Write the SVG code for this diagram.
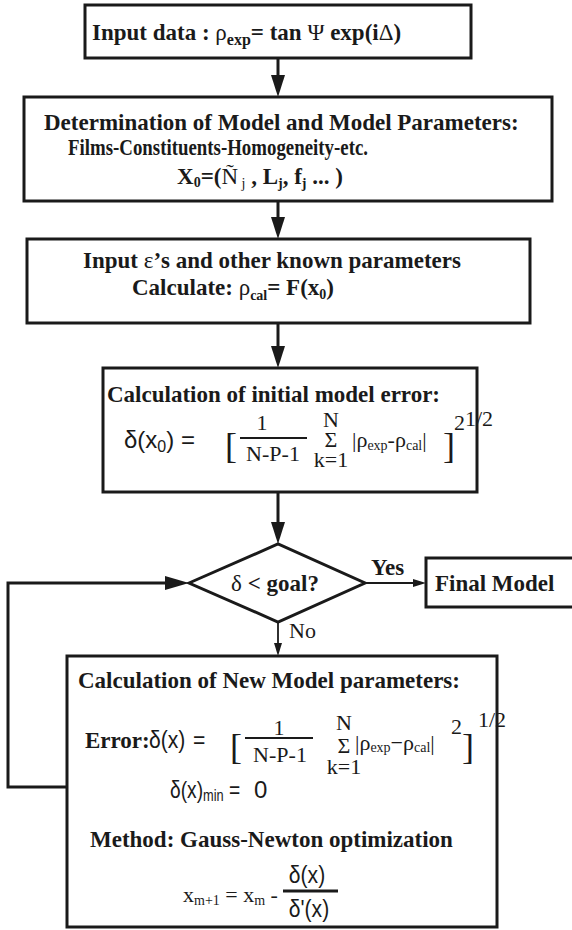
<svg xmlns="http://www.w3.org/2000/svg" width="572" height="930" viewBox="0 0 572 930">
<style>
.box{fill:#fff;stroke:#1a1a1a;stroke-width:3}
.ln{stroke:#1a1a1a;stroke-width:3;fill:none}
.thin{stroke:#1a1a1a;stroke-width:1.8;fill:none}
.ah{fill:#1a1a1a}
.b{font-family:"Liberation Serif",serif;font-weight:bold;font-size:23px;fill:#1a1a1a}
.r{font-family:"Liberation Serif",serif;font-size:22px;fill:#1a1a1a}
.s{font-family:"Liberation Sans",sans-serif;font-size:24px;fill:#1a1a1a}
.br{font-family:"Liberation Serif",serif;font-size:36px;font-weight:300;fill:#1a1a1a}
.sm{font-size:14px}
.n{font-weight:normal}
</style>

<!-- connectors -->
<g id="connectors">
<path class="ln" d="M278,58 V90"/>
<path class="ah" d="M271,75 L278,97 L285,75 z"/>
<path class="ln" d="M278,201 V230"/>
<path class="ah" d="M271,217 L278,239 L285,217 z"/>
<path class="ln" d="M278,323 V360"/>
<path class="ah" d="M271,346 L278,368 L285,346 z"/>
<path class="ln" d="M278,492 V535"/>
<path class="ah" d="M271,522 L278,544 L285,522 z"/>
<path class="thin" d="M365,583 H418"/>
<path class="ah" d="M413,579 L426,583 L413,587 z"/>
<path class="thin" d="M278,622 V648"/>
<path class="ah" d="M274,643 L278,656 L282,643 z"/>
<path class="ln" d="M67,787 H8 V583 H170"/>
<path class="ah" d="M165,576 L189,583 L165,590 z"/>
</g>

<!-- input data -->
<g id="input">
<rect class="box" x="85" y="5" width="386" height="53" stroke-width="2.6"/>
<text class="b" x="92" y="40" font-size="26.5">Input data : <tspan class="n">ρ</tspan><tspan font-size="16" dy="5">exp</tspan><tspan dy="-5">= tan </tspan><tspan class="n">Ψ</tspan> exp(i<tspan class="n">Δ</tspan>)</text>
</g>

<!-- model determination -->
<g id="model">
<rect class="box" x="24" y="97" width="528" height="104"/>
<text class="b" x="44" y="130" font-size="23.5">Determination of Model and Model Parameters:</text>
<text class="b" x="68" y="155" font-size="21" textLength="300" lengthAdjust="spacingAndGlyphs">Films-Constituents-Homogeneity-etc.</text>
<text class="b" x="177" y="184" font-size="22">X<tspan class="sm" dy="3">0</tspan><tspan dy="-3">=(</tspan><tspan class="n">Ñ</tspan><tspan class="n sm" dy="4"> j</tspan><tspan dy="-4"> , L</tspan><tspan class="sm" dy="4">j</tspan><tspan dy="-4">, f</tspan><tspan class="sm" dy="4">j</tspan><tspan dy="-4"> ... )</tspan></text>
</g>

<!-- calculate -->
<g id="calc">
<rect class="box" x="27" y="239" width="503" height="84"/>
<text class="b" x="83" y="268">Input <tspan class="n">ε</tspan>’s and other known parameters</text>
<text class="b" x="132" y="295" font-size="22">Calculate: <tspan class="n">ρ</tspan><tspan class="sm" dy="5">cal</tspan><tspan dy="-5">= F(x</tspan><tspan class="sm" dy="4">0</tspan><tspan dy="-4">)</tspan></text>
</g>

<!-- initial error -->
<g id="initial-error">
<rect class="box" x="103" y="368" width="374" height="124"/>
<text class="b" x="107" y="402" font-size="26">Calculation of initial model error:</text>
<text class="s" x="124" y="448">δ(x<tspan font-size="16" dy="4">0</tspan><tspan dy="-4">) =</tspan></text>
<text class="br" x="225" y="458">[</text>
<text class="r" x="262" y="430" text-anchor="middle">1</text>
<path class="thin" d="M240,438 H307"/>
<text class="r" x="273" y="461" text-anchor="middle">N-P-1</text>
<text class="r" x="331" y="427" text-anchor="middle" font-size="18">N</text>
<text class="r" x="331" y="447" text-anchor="middle" font-size="15">Σ</text>
<text class="r" x="331" y="467" text-anchor="middle" font-size="18">k=1</text>
<text class="r" x="352" y="447" font-size="24">|ρ<tspan class="sm" dy="3">exp</tspan><tspan dy="-3">-ρ</tspan><tspan class="sm" dy="3">cal</tspan><tspan dy="-3">|</tspan></text>
<text class="br" x="443" y="458">]</text>
<text class="r" x="454" y="430" font-size="19">2</text>
<text class="r" x="465" y="426" font-size="19">1/2</text>
</g>

<!-- decision -->
<g id="decision">
<polygon points="189,583 278,544 365,583 278,622" fill="#fff" stroke="#1a1a1a" stroke-width="3"/>
<text class="b" x="275" y="591" text-anchor="middle"><tspan class="n">δ</tspan> &lt; goal?</text>
<text class="b" x="371" y="575" font-size="21">Yes</text>
<text class="r" x="289" y="638" font-size="23">No</text>
</g>

<!-- final model -->
<g id="final">
<rect class="box" x="426" y="558" width="160" height="49"/>
<text class="b" x="435" y="591">Final Model</text>
</g>

<!-- new parameters -->
<g id="new-params">
<rect class="box" x="67" y="656" width="430" height="271"/>
<text class="b" x="78" y="688" font-size="23.5">Calculation of New Model parameters:</text>
<text class="b" x="85" y="748" font-size="19">Error:</text>
<text class="s" transform="translate(149,748) scale(0.88,1)" x="0" y="0" font-size="23">δ(x) <tspan dx="2">=</tspan></text>
<text class="br" x="230" y="759">[</text>
<text class="r" x="279" y="735" text-anchor="middle">1</text>
<path class="thin" d="M245,738 H313"/>
<text class="r" x="280" y="762" text-anchor="middle">N-P-1</text>
<text class="r" x="344" y="730" text-anchor="middle">N</text>
<text class="r" x="344" y="753" text-anchor="middle" font-size="14">Σ</text>
<text class="r" x="344" y="774" text-anchor="middle" font-size="20">k=1</text>
<text class="r" x="355" y="750" font-size="24">|ρ<tspan class="sm" dy="2">exp</tspan><tspan dy="-2">−ρ</tspan><tspan class="sm" dy="2">cal</tspan><tspan dy="-2">|</tspan></text>
<text class="r" x="451" y="734" font-size="19">2</text>
<text class="br" x="462" y="759">]</text>
<text class="r" x="478" y="727">1/2</text>
<text class="s" transform="translate(170,798) scale(0.8,1)" x="0" y="0" font-size="23">δ(x)<tspan font-size="16" dy="3">min</tspan><tspan dy="-3"> =  </tspan></text>
<text class="s" x="254" y="798" font-size="21">0</text>
<text class="b" x="90" y="847" font-size="23.5">Method: Gauss-Newton optimization</text>
<text class="r" x="183" y="902" font-size="21">x<tspan class="sm" dy="3">m+1</tspan><tspan dy="-3"> = x</tspan><tspan class="sm" dy="3">m</tspan><tspan dy="-3"> - </tspan></text>
<text class="s" transform="translate(307,883) scale(0.88,1)" x="0" y="0" text-anchor="middle" font-size="23">δ(x)</text>
<path class="ln" d="M283,891 H338"/>
<text class="s" transform="translate(309,917) scale(0.88,1)" x="0" y="0" text-anchor="middle" font-size="23">δ'(x)</text>
</g>
</svg>
